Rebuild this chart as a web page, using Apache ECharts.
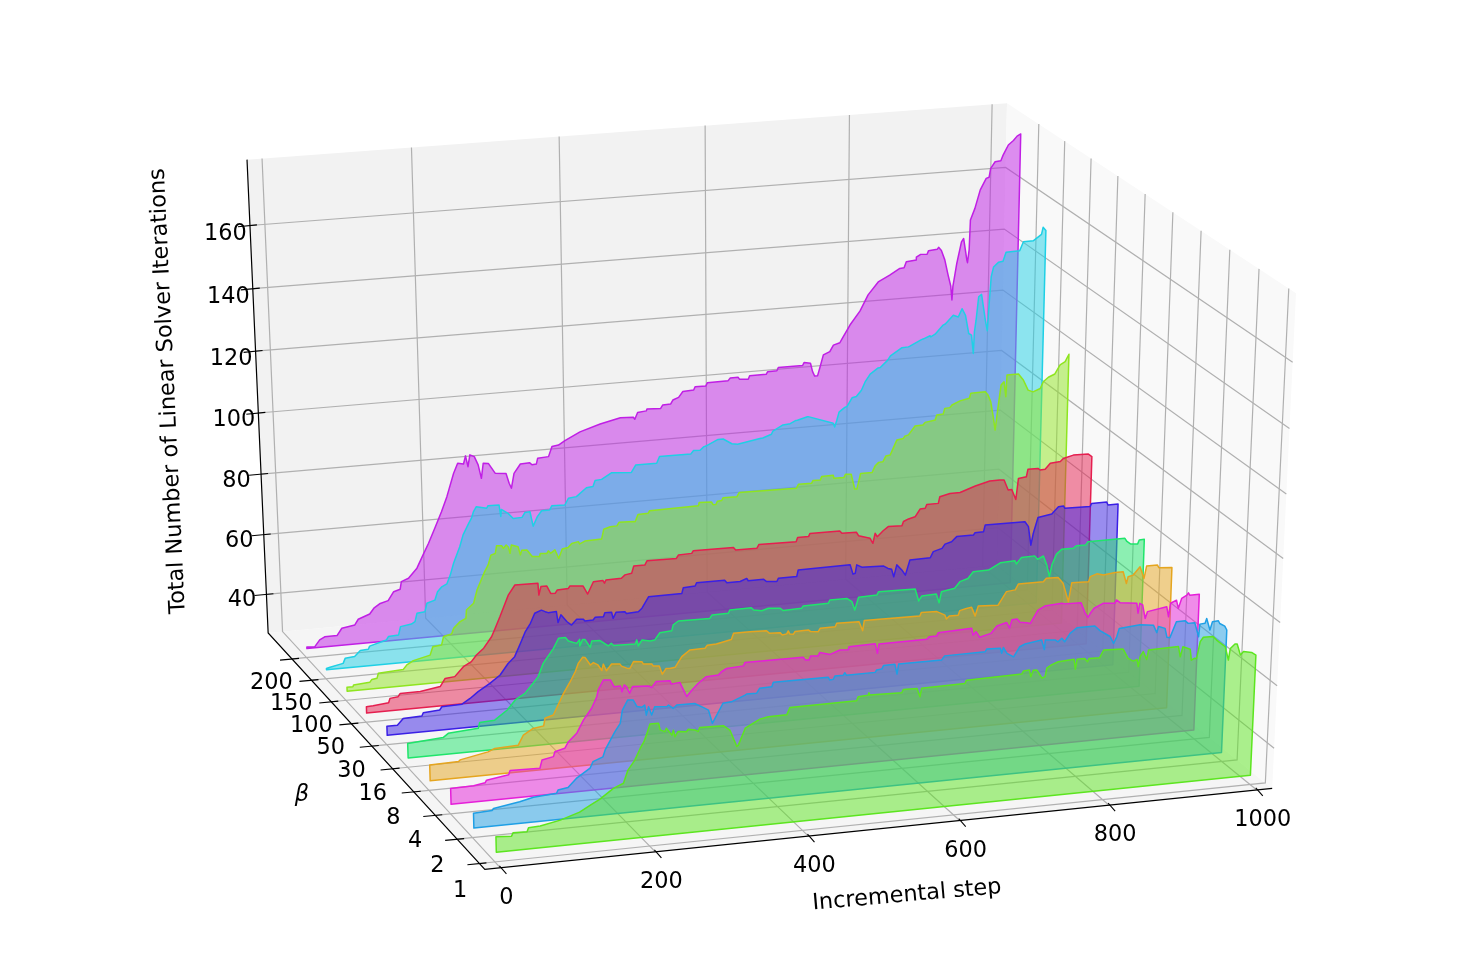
<!DOCTYPE html>
<html><head><meta charset="utf-8"><style>html,body{margin:0;background:#fff}#c{width:1472px;height:971px}</style>
<script src="https://cdn.jsdelivr.net/npm/echarts@6/dist/echarts.min.js"></script></head><body><div id="c"></div>
<script>
const stepTicks=[0,200,400,600,800,1000];
const iterTicks=[40,60,80,100,120,140,160];
const betaLabels=['1','2','4','8','16','30','50','100','150','200'];
const betaTickRows=[1,2,3,4,5,6,7,8,9,10];
const steps0=[2,22,24,42,44,59,85,110,124,136,154,167,173,182,189,194,198,202,213,215,221,223,230,232,234,238,249,251,260,264,266,297,305,314,316,325,335,344,355,379,383,470,472,485,486,487,529,531,549,553,555,612,614,687,689,697,699,702,707,714,718,720,726,735,756,758,760,770,774,776,790,795,821,828,835,840,842,844,848,853,855,895,898,901,911,913,917,920,924,928,941,946,958,963,965,971,974,979,983,994,1000];
const iters0=[34.9,34.6,35.6,35.5,36.7,36.9,38.1,40.0,41.9,43.4,46.4,47.7,51.7,54.6,58.1,60.1,62.6,65.4,65.4,63.3,62.6,63.6,61.3,62.8,60.7,
62.2,61.9,62.6,62.2,61.6,62.8,62.6,61.1,55.7,56.1,61.2,62.5,63.6,64.1,64.1,66.3,66.4,67.6,67.8,68.5,67.8,67.5,68.5,68.4,65.7,
68.3,68.5,69.5,69.7,70.6,70.8,68.6,70.6,70.5,67.8,68.2,70.8,71.7,72.5,72.8,69.6,72.7,72.7,71.6,72.6,72.5,74.8,74.5,71.4,70.4,
70.8,68.5,71.6,73.1,70.5,73.4,73.6,70.3,73.4,72.4,68.9,69.4,69.3,74.5,75.8,75.7,74.5,72.1,67.8,71.4,72.7,72.6,69.0,70.0,69.5,68.5];
const steps1=[2,26,28,62,80,110,112,125,136,154,158,171,174,187,194,197,204,211,216,222,226,228,231,235,239,255,257,263,268,291,302,309,314,320,328,339,357,359,372,376,392,394,466,468,473,475,486,488,490,528,530,537,539,554,557,559,616,620,674,676,694,696,698,703,712,720,727,749,753,754,767,771,776,780,787,796,820,827,841,846,850,853,881,899,904,906,915,918,922,930,942,946,955,961,962,969,971,976,979,987,989,996,999];
const iters1=[34.7,35.0,35.6,36.9,37.9,38.4,39.4,39.9,42.5,45.3,47.3,48.5,50.6,56.1,58.5,62.6,65.6,65.5,63.3,62.9,63.5,60.3,62.9,60.2,62.7,
62.4,62.8,61.6,62.6,62.5,61.0,60.0,55.7,58.2,61.7,61.9,63.6,63.9,63.8,65.3,65.4,66.8,66.7,65.8,65.9,66.9,66.9,67.6,66.8,66.8,
67.5,67.7,68.7,68.8,65.6,68.7,68.7,69.9,70.0,70.8,70.6,69.0,70.8,68.8,67.5,70.5,71.2,72.0,68.9,71.9,71.6,70.9,71.9,70.7,73.2,
74.8,74.8,73.2,71.0,68.7,70.7,73.3,73.8,73.3,70.8,72.7,71.9,69.0,68.8,73.7,73.7,72.8,72.8,68.2,72.2,72.3,73.8,70.0,72.6,72.7,
71.8,70.8,69.5];
const steps2=[1,31,46,48,77,79,118,121,136,138,151,156,167,176,187,194,196,203,212,217,225,227,230,233,237,241,262,266,272,290,292,303,312,319,327,338,354,358,365,387,389,466,469,474,476,486,488,502,515,526,527,562,565,567,631,634,644,646,691,693,697,702,717,725,738,742,745,752,756,765,770,780,789,812,816,838,844,848,851,856,868,884,886,891,914,916,918,922,926,929,955,958,960,968,971,975,982,984,986,999];
const iters2=[35.1,35.2,35.8,36.6,37.6,38.9,38.7,41.3,42.0,43.5,44.3,46.3,48.7,52.7,56.2,59.7,61.8,64.8,64.6,62.3,62.4,60.5,62.6,62.0,59.8,
61.8,61.5,60.9,62.7,62.5,61.4,61.7,57.0,58.9,60.8,62.7,62.9,63.8,64.7,65.0,66.0,65.9,65.0,64.9,66.1,65.9,66.9,66.0,67.1,66.9,
67.9,68.0,64.9,67.8,67.9,68.6,68.6,69.6,70.0,67.8,68.8,66.9,67.8,70.0,70.8,68.9,71.5,71.6,70.5,70.1,69.8,73.8,74.9,75.3,75.0,
74.9,71.4,70.0,71.2,72.7,74.0,73.7,74.7,73.7,73.0,69.8,72.9,72.3,67.9,70.0,71.0,67.7,72.0,72.8,70.1,73.2,74.1,74.8,74.0,74.0];
const steps3=[2,40,42,79,88,119,126,139,153,155,166,180,189,196,200,206,209,216,220,226,231,233,237,244,255,257,264,268,273,284,286,297,299,307,311,316,321,328,337,348,368,371,383,403,406,428,450,454,468,471,477,479,481,486,488,506,509,519,522,542,544,574,579,581,656,658,679,690,692,696,708,710,719,726,728,731,735,762,773,785,789,823,827,843,850,858,862,885,887,896,905,921,932,937,939,946,955,961,964,979,981,999];
const iters3=[35.1,35.3,35.8,37.5,38.4,38.7,41.8,43.6,44.1,46.5,47.3,53.9,57.4,60.5,63.0,64.8,64.7,62.1,62.8,61.9,60.0,62.0,59.8,61.8,61.5,
60.8,60.0,59.8,61.9,61.6,60.8,60.6,59.9,59.7,57.0,58.7,58.6,58.8,62.0,63.9,64.0,64.9,65.0,66.0,67.9,67.9,67.7,66.8,66.7,65.9,
66.1,67.0,66.0,65.8,66.6,66.7,66.1,65.8,66.9,66.9,68.0,67.8,64.8,68.0,67.8,68.9,68.7,67.3,66.0,66.9,66.9,68.3,68.8,69.0,67.9,
66.1,69.2,68.9,73.0,73.3,75.1,75.1,76.1,76.0,74.0,67.9,73.9,73.7,75.3,76.0,75.4,75.9,75.9,72.0,74.1,74.5,77.0,73.1,77.0,77.0,
76.1,75.8];
const steps4=[1,48,55,95,97,117,134,145,158,169,176,183,197,204,213,217,228,232,232,236,239,246,248,259,270,274,277,306,308,310,315,326,332,339,355,357,364,406,409,431,433,462,465,476,485,501,505,530,532,566,568,591,598,602,607,632,634,684,689,693,713,717,720,738,745,756,763,784,800,820,822,829,847,851,859,864,868,871,877,884,900,904,917,920,971,974,979,989,991,998];
const iters4=[34.7,35.5,36.7,37.4,39.2,39.5,42.4,45.4,47.2,50.2,52.2,56.3,60.8,63.9,63.9,62.7,61.7,62.9,60.8,62.8,62.7,60.0,62.0,61.9,59.9,
60.7,59.9,59.7,61.0,59.0,60.8,60.2,60.4,62.6,62.9,64.7,65.8,65.7,66.7,66.8,67.8,67.9,67.1,66.6,67.2,66.8,66.0,66.2,66.9,67.0,
68.0,68.0,66.8,64.0,68.0,68.2,69.2,69.0,65.0,66.5,66.7,63.8,67.3,68.0,70.0,70.8,72.8,72.9,74.9,75.1,74.0,76.0,76.1,74.9,75.8,
72.8,68.9,72.6,76.0,77.4,77.4,78.1,78.1,79.1,79.1,78.0,77.1,76.9,78.1,78.2];
const steps5=[1,15,23,48,50,72,75,102,113,124,140,154,165,174,182,189,196,202,211,216,220,231,233,237,245,251,258,267,269,280,283,294,296,305,307,311,323,325,341,346,355,400,402,418,420,458,461,479,488,490,511,515,529,531,556,558,629,633,636,638,645,675,681,686,689,693,700,705,711,739,743,755,759,768,775,798,800,812,814,869,869,874,878,881,887,906,915,922,924,959,961,982,984,998];
const iters5=[33.0,33.0,35.0,35.2,36.2,36.6,37.6,37.8,39.4,41.4,43.7,46.1,49.6,51.6,55.7,59.4,61.9,65.0,65.8,65.2,64.8,64.9,61.3,63.7,61.3,
60.1,61.8,61.6,61.0,61.1,61.9,61.8,63.1,63.0,61.0,62.9,62.8,62.2,62.4,63.4,66.9,67.0,68.8,69.0,70.0,70.0,69.1,69.1,69.9,69.1,
69.1,68.3,68.0,69.0,69.0,71.1,71.2,68.1,68.3,71.0,70.1,69.8,68.9,68.5,66.0,69.8,68.0,66.2,71.0,71.1,73.0,73.8,75.1,75.7,77.2,
77.2,77.9,78.0,80.1,80.0,80.0,78.3,72.2,76.0,81.0,81.7,83.9,84.0,83.2,83.0,84.0,84.0,83.0,83.0];
const steps6=[1,10,31,33,44,47,74,101,108,121,133,144,151,161,172,177,184,196,205,236,237,240,248,253,259,262,277,279,297,303,311,324,326,328,349,354,363,366,381,384,424,427,445,447,502,505,534,537,588,590,605,607,648,651,671,674,690,694,697,700,708,715,734,736,743,752,759,766,768,784,786,800,814,835,855,869,875,881,886,892,895,906,908,922,925,932,939,953,957,971,992,997];
const iters6=[32.1,32.2,32.7,34.1,34.4,35.4,35.4,36.4,38.9,39.2,42.2,43.6,45.6,47.6,51.1,53.7,57.4,64.2,67.2,67.1,63.2,65.9,65.9,63.4,63.3,
64.3,64.5,65.2,64.8,62.1,65.9,66.0,65.1,66.1,66.2,67.2,67.5,69.8,69.8,71.1,71.0,72.1,72.2,73.0,72.9,72.0,71.9,73.1,72.9,74.2,
74.2,75.2,75.1,74.3,74.2,73.0,71.8,70.1,73.3,72.1,73.9,75.1,75.0,76.3,77.0,77.5,79.9,80.0,81.2,81.2,83.3,84.1,84.1,85.8,87.0,
87.0,86.9,83.5,83.6,80.2,87.0,87.3,89.7,89.7,89.1,89.2,91.0,91.3,92.2,93.0,92.9,92.0];
const steps7=[2,10,11,33,36,43,45,79,84,93,116,120,132,135,146,149,158,166,167,177,182,189,193,198,202,208,210,217,219,223,226,228,230,239,242,244,251,258,268,269,278,280,283,289,294,299,307,312,321,323,330,353,356,365,374,377,397,399,403,417,419,486,487,504,506,510,512,518,520,539,542,621,624,642,644,654,656,672,673,687,689,697,700,702,705,710,726,730,735,741,745,751,760,769,771,776,785,796,799,813,815,824,826,833,836,847,860,862,882,886,890,894,897,901,904,908,911,912,928,935,942,949,959,963,970,979,986,993,998];
const iters7=[31.3,31.3,31.8,32.2,33.1,33.3,34.9,35.4,36.8,38.0,39.3,42.0,42.3,45.0,45.6,47.4,49.4,50.3,53.0,55.0,59.2,62.9,65.0,67.1,70.2,
70.6,73.1,72.9,72.0,73.0,72.2,70.2,72.9,72.1,69.4,70.9,70.8,68.5,68.3,69.3,69.1,69.9,69.0,70.0,67.1,70.1,70.4,71.6,72.0,71.2,
72.0,72.2,75.3,75.9,76.0,77.1,76.9,76.8,79.1,79.2,80.0,80.2,81.2,81.0,80.1,80.1,81.1,81.2,82.1,82.0,83.3,83.0,84.3,84.2,85.1,
85.0,86.1,86.2,85.2,85.2,86.2,86.0,83.0,81.1,81.0,86.0,86.0,88.0,89.1,89.2,91.0,91.2,95.9,96.2,96.9,97.2,99.9,100.0,100.8,101.3,
102.9,103.0,104.8,104.9,105.7,106.8,107.4,109.0,109.1,107.9,105.7,100.7,96.3,104.9,110.8,111.8,106.9,113.9,113.9,111.8,108.4,107.7,108.6,110.7,112.0,
112.9,115.7,116.6,118.9];
const steps8=[1,6,24,27,40,48,59,61,84,87,101,104,119,124,127,138,141,152,156,162,169,174,179,188,193,201,205,208,212,226,228,243,245,246,255,262,274,278,285,289,295,301,312,315,333,338,349,363,372,375,384,398,425,431,460,464,507,511,520,525,528,545,552,564,572,603,607,619,621,635,645,653,655,669,670,705,707,710,713,721,724,731,737,744,749,756,767,770,780,784,800,809,811,827,830,839,840,846,857,860,871,878,883,888,893,897,900,901,903,906,910,916,919,921,923,926,933,939,943,962,967,981,992,994,998];
const iters8=[30.4,30.7,31.6,33.2,33.5,35.3,35.5,36.5,38.0,39.1,39.3,42.0,42.5,43.2,45.9,46.2,48.9,49.7,52.4,53.9,54.7,57.5,61.3,66.5,70.3,
73.9,75.5,77.6,79.1,78.3,79.1,79.0,75.2,77.5,76.0,74.2,74.3,75.8,75.9,71.1,74.1,75.9,75.9,77.2,77.1,79.2,79.5,82.1,82.3,84.2,
84.4,86.3,85.8,88.1,88.1,90.2,90.1,91.2,91.1,92.1,92.3,94.1,94.1,92.3,92.0,93.2,93.3,94.3,95.3,97.0,97.2,98.1,98.1,99.0,99.0,
96.1,94.9,97.0,99.6,101.0,101.2,103.9,104.2,106.1,108.7,111.1,112.9,113.0,115.1,116.5,118.8,118.9,119.1,120.9,121.1,121.9,121.5,122.3,125.0,125.3,
127.9,127.2,129.8,127.6,121.6,121.0,115.0,122.0,125.7,133.2,133.9,125.5,122.0,131.3,139.3,142.4,143.8,144.0,146.8,146.9,149.7,149.8,151.6,153.8,152.7];
const steps9=[1,12,19,26,43,50,68,73,89,95,104,115,123,132,134,144,156,166,173,182,192,200,210,216,224,227,230,233,239,244,248,251,258,267,282,286,289,293,302,315,318,324,326,341,346,355,364,385,413,441,459,461,465,477,478,497,500,511,514,522,528,543,545,560,562,591,594,605,607,619,621,644,646,659,661,695,697,706,709,712,716,719,724,733,738,747,750,761,775,786,800,816,830,836,839,853,853,859,868,870,882,884,888,893,898,902,904,905,910,916,919,924,925,927,928,934,941,949,953,955,961,969,972,979,986,991,996];
const iters9=[30.5,30.4,32.5,33.4,33.4,35.7,36.4,38.2,39.6,41.4,42.8,43.5,46.3,46.9,49.4,50.3,53.4,58.1,61.3,66.0,71.3,76.1,83.5,86.7,86.3,
88.9,85.3,89.1,88.4,85.6,81.1,86.0,85.8,82.4,82.0,78.7,77.0,81.8,84.7,84.8,84.1,84.2,86.1,86.3,89.5,89.8,91.1,93.5,95.5,97.0,
96.8,96.1,98.2,98.5,99.1,98.9,100.0,100.1,101.3,102.0,103.8,104.0,105.0,105.0,106.0,106.1,106.9,106.9,106.2,106.0,107.1,107.1,107.9,108.0,109.0,
109.0,109.9,109.5,106.7,105.2,105.2,107.6,111.9,112.8,114.8,115.4,116.6,120.9,125.2,130.2,134.1,136.0,137.9,138.0,139.9,140.2,141.1,141.9,141.8,142.9,
143.1,143.7,142.6,139.5,134.5,130.9,126.3,130.6,138.1,144.9,145.9,138.9,138.0,142.1,151.7,155.3,161.1,164.6,164.9,167.7,169.7,169.9,171.6,174.7,176.0,
177.3,177.9];
const stepSeries=[steps0,steps1,steps2,steps3,steps4,steps5,steps6,steps7,steps8,steps9];
const iterSeries=[iters0,iters1,iters2,iters3,iters4,iters5,iters6,iters7,iters8,iters9];
const colors=['#5ce51f','#1f9fe5','#e51fd9','#e5a51f','#1fe56b','#3a1fe5','#e51f4f','#8fe51f','#1fd0e5','#c01fe5'];
const XL=[-20,1021],YL=[0.76,11.25],ZL=[27,180.6],BASE=30;
const CAMERA=[[827.98047,-191.84055,-34.318604,484.82110],[-55.824778,-177.89266,-524.33956,869.39619],[0.031924280,0.092591339,-0.045428952,1]];
const FONT='DejaVu Sans',FS=22.4;
const nx=x=>(x-XL[0])/(XL[1]-XL[0]),ny=y=>(y-YL[0])/(YL[1]-YL[0]),nz=z=>(z-ZL[0])/(ZL[1]-ZL[0]);
function proj(x,y,z){const X=[nx(x),ny(y),nz(z),1];const d=CAMERA.map(r=>r[0]*X[0]+r[1]*X[1]+r[2]*X[2]+r[3]);return [d[0]/d[2],d[1]/d[2]];}
function frame(params,api){const c=(x,y,z)=>api.coord(proj(x,y,z));const [x0,x1]=XL,[y0,y1]=YL,[z0,z1]=ZL;const ch=[];
const poly=(pts,fill)=>ch.push({type:'polygon',shape:{points:pts},style:{fill}});
poly([c(x0,y0,z0),c(x1,y0,z0),c(x1,y1,z0),c(x0,y1,z0)],'#f5f5f5');
poly([c(x0,y1,z0),c(x1,y1,z0),c(x1,y1,z1),c(x0,y1,z1)],'#f2f2f2');
poly([c(x1,y0,z0),c(x1,y1,z0),c(x1,y1,z1),c(x1,y0,z1)],'#f9f9f9');
const pl=(pts,stroke,w)=>ch.push({type:'polyline',shape:{points:pts},style:{stroke,lineWidth:w,fill:null}});
const G='#b0b0b0';
stepTicks.forEach(v=>pl([c(v,y0,z0),c(v,y1,z0),c(v,y1,z1)],G,1.2));
betaTickRows.forEach(v=>pl([c(x0,v,z0),c(x1,v,z0),c(x1,v,z1)],G,1.2));
iterTicks.forEach(v=>pl([c(x0,y1,v),c(x1,y1,v),c(x1,y0,v)],G,1.2));
pl([c(x0,y1,z1),c(x0,y1,z0),c(x0,y0,z0),c(x1,y0,z0)],'#000',1.2);
const txt=(t,p,dx,dy,rot,st)=>ch.push({type:'text',x:p[0]+dx,y:p[1]+dy,rotation:rot||0,style:Object.assign({text:t,fontFamily:FONT,fontSize:FS,fill:'#000',textAlign:'center',textVerticalAlign:'middle'},st)});
stepTicks.forEach(v=>{const p=c(v,y0,z0);pl([[p[0]-1,p[1]-2],[p[0]+6,p[1]+6]],'#000',1.1);txt(String(v),p,6,30.5);});
betaTickRows.forEach(k=>{const p=c(x0,k,z0);pl([[p[0]-12,p[1]+1.2],[p[0]+7,p[1]-0.6]],'#000',1.1);});
betaLabels.forEach((s,k)=>txt(s,c(x0,k,z0),-43+s.length,2.5));
iterTicks.forEach(v=>{const p=c(x0,y1,v);pl([[p[0]-12,p[1]+1.2],[p[0]+7,p[1]-0.6]],'#000',1.1);txt(String(v),p,-24.5,6+(v-40)/40);});
txt('Incremental step',api.coord([907,895.5]),0,0,5*Math.PI/180);
txt('Total Number of Linear Solver Iterations',api.coord([168.5,391]),0,0,92.7*Math.PI/180);
txt('β',api.coord([302,795]),0,0,0,{fontStyle:'italic'});
return {type:'group',children:ch};}
function wf(i){return (params,api)=>{if(params.dataIndex>0)return null;const y=i+1,s=stepSeries[i],v=iterSeries[i];const pts=[api.coord(proj(s[0],y,BASE))];s.forEach((x,k)=>pts.push(api.coord(proj(x,y,v[k]))));pts.push(api.coord(proj(s[s.length-1],y,BASE)));
return {type:'polygon',shape:{points:pts},style:{fill:colors[i]+'80',stroke:colors[i],lineWidth:1.5,lineJoin:'round'}};};}
const series=[{type:'custom',silent:true,clip:false,data:[[0,0]],renderItem:frame}];
for(let i=9;i>=0;i--)series.push({type:'custom',silent:true,clip:false,data:stepSeries[i].map((x,k)=>[x,iterSeries[i][k]]),renderItem:wf(i)});
echarts.init(document.getElementById('c')).setOption({animation:false,grid:{left:0,right:0,top:0,bottom:0},xAxis:{type:'value',min:0,max:1472,show:false},yAxis:{type:'value',min:0,max:971,inverse:true,show:false},series});
</script></body></html>
